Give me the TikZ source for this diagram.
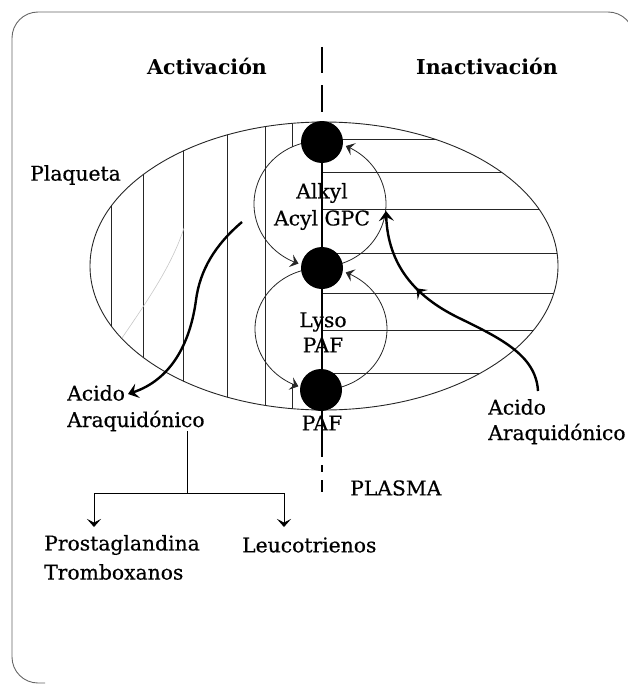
\documentclass[tikz,border=0pt]{standalone}
\usepackage{fontspec}
\setmainfont{DejaVu Serif}
\newfontfamily\lblfont{DejaVu Serif}[FakeBold=0.5]
\usetikzlibrary{arrows.meta,decorations.markings}
\begin{document}
\begin{tikzpicture}[x=1pt,y=-1pt,
  lbl/.style={font=\lblfont\fontsize{20.3}{24}\selectfont, inner sep=0pt, anchor=west},
  ctr/.style={font=\lblfont\fontsize{20.3}{24}\selectfont, inner sep=0pt},
  ttl/.style={font=\fontsize{20.5}{24}\selectfont\bfseries, inner sep=0pt},
  dot/.style={circle, fill=black, minimum size=42pt, inner sep=0pt},
  hatch/.style={black!85, line width=0.8pt},
  thinarc/.style={black!85, line width=0.8pt},
  arcbarb/.style={-{Stealth[length=8pt,width=13pt,inset=3.2pt]}},
  treebarb/.style={-{Stealth[length=8pt,width=14pt,inset=3.5pt]}},
  thickbarbone/.style={-{Stealth[length=10pt,width=15pt,inset=4pt]}},
  thickbarb/.style={-{Stealth[length=10pt,width=15pt,inset=4pt]},
     postaction={decorate}, decoration={markings,
     mark=at position 0.66 with {\arrow{Stealth[length=9pt,width=14pt,inset=3.8pt]}}}},
  frame/.style={black!60, line width=0.9pt}
]
\useasboundingbox (0,0) rectangle (628,685);

% frame
\draw[frame, rounded corners=26pt] (45,683) -- (12,683) -- (12,12) -- (634,12) -- (634,120);

% ellipse (platelet)
\draw[black!85, line width=0.9pt] (324,266) ellipse [x radius=234pt, y radius=144pt];
\begin{scope}
  \clip (324,266) ellipse [x radius=234pt, y radius=144pt];
  \foreach \xx in {111,143,183,227,265}
    \draw[hatch] (\xx,100) -- (\xx,430);
  \draw[hatch] (292,100) -- (292,147);
  \draw[hatch] (292,384) -- (292,430);
  \foreach \yy in {139,172,209,253,293,330,373}
    \draw[hatch] (322,\yy) -- (600,\yy);
\end{scope}
% faint trace
\draw[black!22, line width=0.6pt] (122,338) .. controls (148,300) and (172,265) .. (184,228);

% cycle arcs
\draw[thinarc, arcbarb] plot[domain=100:251, samples=60] ({320+66*cos(\x)}, {204-63*sin(\x)});
\draw[thinarc, arcbarb] plot[domain=-75:67, samples=60] ({320+66*cos(\x)}, {204-63*sin(\x)});
\draw[thinarc, arcbarb] plot[domain=105:250, samples=60] ({321+66*cos(\x)}, {329-61*sin(\x)});
\draw[thinarc, arcbarb] plot[domain=-75:68, samples=60] ({321+66*cos(\x)}, {329-61*sin(\x)});

% dividing line
\draw[line width=2.2pt] (322,47) -- (322,73);
\draw[line width=2.2pt] (322,85) -- (322,112);
\draw[line width=1.4pt] (322,123) -- (322,457);
\draw[line width=2.2pt] (322,465) -- (322,472);
\draw[line width=2.2pt] (322,480) -- (322,492);

% dots
\node[dot] (d1) at (322,142) {};
\node[dot] (d2) at (322,268) {};
\node[dot] (d3) at (321,390) {};

% titles
\node[ttl] (act) at (207,66) {Activación};
\node[ttl] (inact) at (487,66) {Inactivación};

% labels
\node[lbl] (plaq) at (30,175) {Plaqueta};
\node[ctr] (alk) at (322,193) {Alkyl};
\node[ctr] (acyl) at (322,220) {Acyl GPC};
\node[ctr] (lyso) at (323,322) {Lyso};
\node[ctr] (paf1) at (323,345) {PAF};
\node[ctr] (paf2) at (322,423) {PAF};
\node[lbl] (plasma) at (350,488) {PLASMA};
\node[lbl] (acidoL) at (67,393) {Acido};
\node[lbl] (araqL) at (67,421) {Araquidónico};
\node[lbl] (acidoR) at (488,407) {Acido};
\node[lbl] (araqR) at (488,434) {Araquidónico};
\node[lbl] (prost) at (44,545) {Prostaglandina};
\node[lbl] (tromb) at (44,572) {Tromboxanos};
\node[lbl] (leuco) at (242,545) {Leucotrienos};

% release of arachidonic acid (activation)
\coordinate (sL) at (242,222);
\coordinate (eL) at (128,394);
\draw[line width=2.4pt, thickbarbone] (sL) .. controls (215,245) and (200,270) .. (196,300)
  .. controls (190,345) and (170,380) .. (eL);

% reacylation (inactivation)
\coordinate (sR) at (538,391);
\coordinate (eR) at (386,211);
\draw[line width=2.4pt, thickbarb]
  (sR) .. controls (536,355) and (500,338) .. (457,317)
  .. controls (415,296) and (388,265) .. (eR);

% metabolites tree
\coordinate (br) at (187,493);
\coordinate (brL) at (94,493);
\coordinate (brR) at (284,493);
\draw[line width=0.8pt] (araqL.south -| br) -- (br);
\draw[line width=0.8pt] (brL) -- (brR);
\draw[line width=0.8pt, treebarb] (brL) -- (94,527);
\draw[line width=0.8pt, treebarb] (brR) -- (284,527);
\end{tikzpicture}
\end{document}
